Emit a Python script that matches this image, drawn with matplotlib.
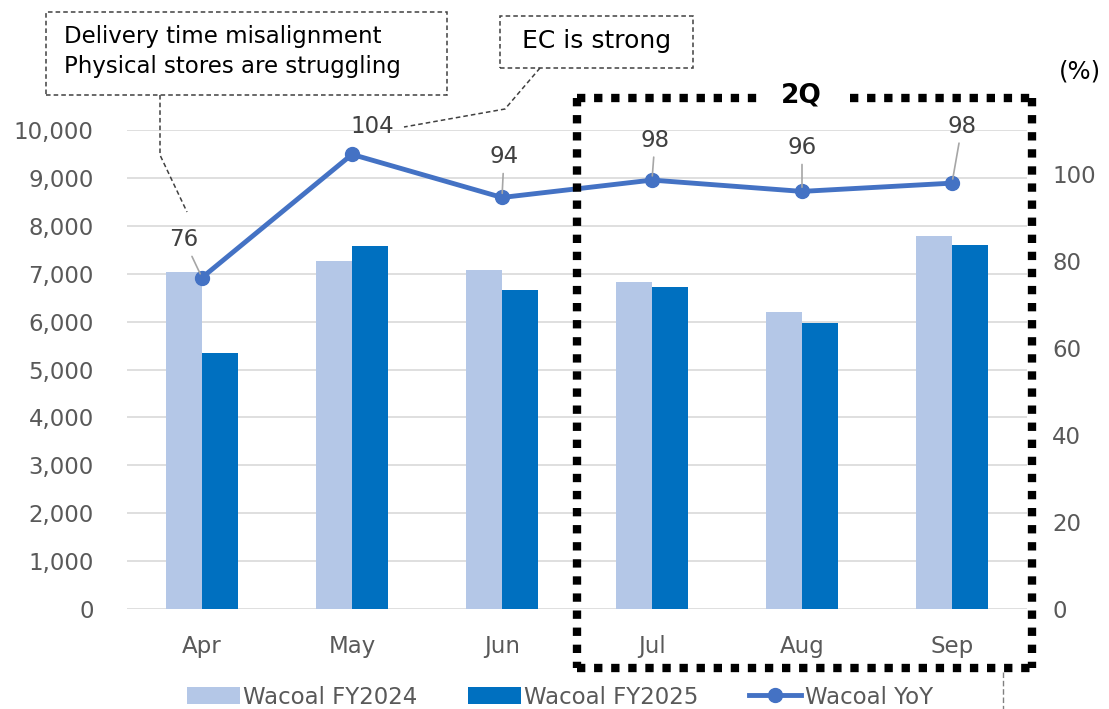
import matplotlib
matplotlib.use("Agg")
import matplotlib.pyplot as plt
from matplotlib.lines import Line2D
from matplotlib.patches import Rectangle
import numpy as np

months = ["Apr", "May", "Jun", "Jul", "Aug", "Sep"]
fy2024 = [7030, 7265, 7075, 6830, 6200, 7790]
fy2025 = [5345, 7580, 6665, 6725, 5970, 7600]
yoy = [76.1, 104.4, 94.5, 98.5, 95.9, 97.8]
left_ticks = list(range(0, 10001, 1000))
right_ticks = list(range(0, 101, 20))

W, H = 1109, 709
plt.rcParams['font.family'] = ['DejaVu Sans']
fig = plt.figure(figsize=(W / 100, H / 100), dpi=100)
FS = 16.5

def fx(x):
    return x / W

def fy(y):
    return 1 - y / H

ax = fig.add_axes([fx(127), fy(609), fx(1027) - fx(127), fy(130) - fy(609)])
ax2 = ax.twinx()

x = np.arange(len(months))
bw = 0.24
ax.bar(x - bw / 2, fy2024, bw, color="#B4C7E7", label="Wacoal FY2024", zorder=2)
ax.bar(x + bw / 2, fy2025, bw, color="#0070C0", label="Wacoal FY2025", zorder=2)
ax.set_xlim(-0.5, len(months) - 0.5)
ax.set_ylim(0, 10000)
ax.set_yticks(left_ticks)
ax.set_yticklabels([f"{v:,}" for v in left_ticks])
ax.set_xticks(x)
ax.set_xticklabels(months)
ax.grid(axis="y", color="#D9D9D9", lw=1.2, zorder=0)
ax.set_axisbelow(True)
for s in ax.spines.values():
    s.set_visible(False)
for s in ax2.spines.values():
    s.set_visible(False)
ax.tick_params(axis="y", length=0, pad=24, labelsize=FS, labelcolor="#595959")
ax.tick_params(axis="x", length=0, pad=19, labelsize=FS, labelcolor="#595959")

ax2.plot(x, yoy, color="#4472C4", lw=3.5, marker="o", ms=10, label="Wacoal YoY", zorder=3)
ax2.set_ylim(0, 110)
ax2.set_yticks(right_ticks)
ax2.tick_params(axis="y", length=0, pad=18, labelsize=FS, labelcolor="#595959")

# data labels (offsets in pixels: dx, dy-down), leader flag
offsets = [(-18, -38, True), (20, -28, False), (2, -41, True), (3, -40, True), (0, -44, True), (10, -57, True)]
for xi, v, (dx, dy, lead) in zip(x, yoy, offsets):
    ap = dict(arrowstyle="-", color="#A6A6A6", lw=1.2, shrinkA=2, shrinkB=3) if lead else None
    ax2.annotate(f"{round(v)}", xy=(xi, v), xytext=(dx * 0.72, -dy * 0.72), textcoords="offset points",
                 ha="center", va="center", fontsize=FS, color="#404040", arrowprops=ap, zorder=4)

# legend
fig.legend(loc="center", bbox_to_anchor=(fx(560), fy(697)), ncol=3, frameon=False,
           fontsize=FS, labelcolor="#595959", handlelength=2.3, handletextpad=0.15,
           columnspacing=2.2, borderaxespad=0)

# 2Q dotted box
dot = dict(color="black", lw=6, linestyle=(0, (1, 1.05)), dash_capstyle="butt", transform=fig.transFigure, clip_on=False)
fig.add_artist(Line2D([fx(577), fx(760)], [fy(98), fy(98)], **dot))
fig.add_artist(Line2D([fx(850), fx(1032)], [fy(98), fy(98)], **dot))
fig.add_artist(Line2D([fx(577), fx(1032)], [fy(668), fy(668)], **dot))
fig.add_artist(Line2D([fx(577), fx(577)], [fy(98), fy(668)], **dot))
fig.add_artist(Line2D([fx(1032), fx(1032)], [fy(98), fy(668)], **dot))
fig.text(fx(801), fy(95), "2Q", ha="center", va="center", fontsize=19, fontweight="bold", color="black")

# callout boxes
dash = dict(color="#404040", lw=1.1, linestyle=(0, (3, 2)))
fig.add_artist(Rectangle((fx(46), fy(95)), fx(447) - fx(46), fy(12) - fy(95), transform=fig.transFigure,
                         fill=False, edgecolor="#404040", lw=1.1, linestyle=(0, (3, 2))))
fig.text(fx(64), fy(36), "Delivery time misalignment", ha="left", va="center", fontsize=FS, color="black")
fig.text(fx(64), fy(66), "Physical stores are struggling", ha="left", va="center", fontsize=FS, color="black")
fig.add_artist(Line2D([fx(160), fx(160), fx(187)], [fy(95), fy(155), fy(212)], transform=fig.transFigure, **dash))

fig.add_artist(Rectangle((fx(500), fy(68)), fx(693) - fx(500), fy(16) - fy(68), transform=fig.transFigure,
                         fill=False, edgecolor="#404040", lw=1.1, linestyle=(0, (3, 2))))
fig.text(fx(597), fy(41), "EC is strong", ha="center", va="center", fontsize=18, color="black")
fig.add_artist(Line2D([fx(540), fx(505), fx(404)], [fy(68), fy(109), fy(127)], transform=fig.transFigure, **dash))

fig.add_artist(Line2D([fx(1003), fx(1003)], [fy(672), fy(709)], transform=fig.transFigure,
                      color="#808080", lw=1, linestyle=(0, (4, 2))))

fig.text(fx(1080), fy(72), "(%)", ha="center", va="center", fontsize=17.5, color="black")

fig.savefig("out.png", dpi=100)
